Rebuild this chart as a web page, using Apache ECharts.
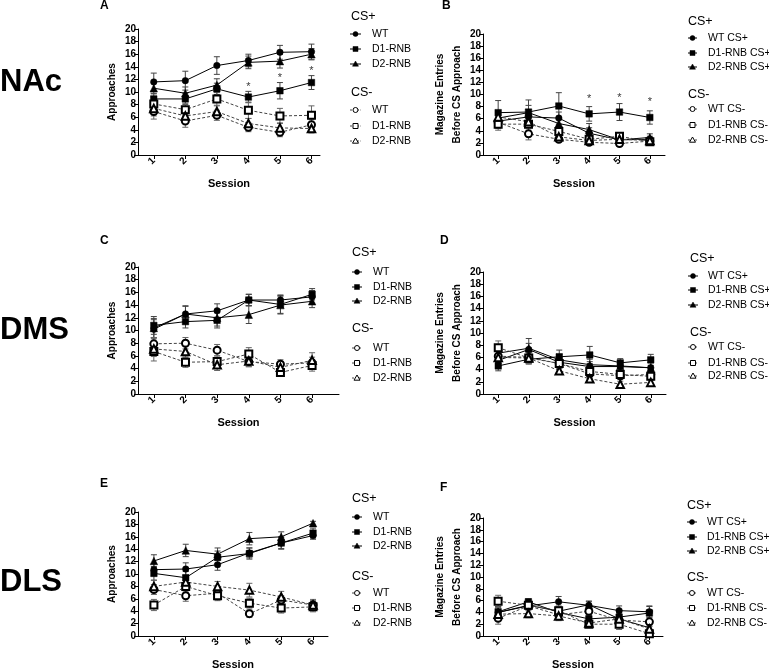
<!DOCTYPE html>
<html><head><meta charset="utf-8">
<script src="https://cdn.jsdelivr.net/npm/echarts@6/dist/echarts.min.js"></script>
<style>html,body{margin:0;padding:0;background:#fff}#c{width:769px;height:671px}</style>
</head><body><div id="c"></div>
<script>
const sessions = [1, 2, 3, 4, 5, 6];
const groupLabels = ['WT', 'D1-RNB', 'D2-RNB'];
const yTicks = [0, 2, 4, 6, 8, 10, 12, 14, 16, 18, 20];

// Panel A — NAc, approaches
const A_WT_p = [11.6, 11.8, 14.2, 15.0, 16.3, 16.4];
const A_D1_p = [8.9, 8.9, 10.5, 9.2, 10.2, 11.5];
const A_D2_p = [10.6, 9.8, 11.1, 14.7, 14.9, 16.0];
const A_WT_m = [6.9, 5.4, 6.3, 4.4, 3.6, 4.8];
const A_D1_m = [8.1, 7.2, 8.9, 7.1, 6.2, 6.3];
const A_D2_m = [7.4, 6.2, 6.9, 5.0, 4.3, 4.2];
const A_err = [[1.4,1.5,1.4,1.0,1.1,1.2],[0.9,0.9,0.9,0.9,1.3,1.1],[0.9,1.0,1.0,1.0,1.1,0.9],
               [1.2,1.0,0.8,0.7,0.7,0.8],[1.1,1.0,1.0,1.3,1.2,1.5],[1.2,0.9,0.9,0.8,0.8,0.7]];
const A_stars = [[4, 10.8], [5, 12.3], [6, 13.4]];

// Panel B — NAc, magazine entries
const B_WT_p = [5.6, 6.3, 6.1, 3.6, 2.5, 2.6];
const B_D1_p = [7.0, 7.1, 8.1, 6.8, 7.1, 6.2];
const B_D2_p = [6.1, 7.0, 5.2, 4.2, 2.5, 2.9];
const B_WT_m = [5.4, 3.5, 2.6, 2.1, 1.9, 2.3];
const B_D1_m = [5.1, 5.1, 3.9, 2.6, 3.1, 2.2];
const B_D2_m = [6.3, 5.5, 3.0, 2.4, 2.6, 2.4];
const B_err = [[1.0,1.2,1.0,0.9,0.5,0.5],[2.0,2.0,2.2,1.2,1.4,1.1],[1.0,1.2,1.0,1.0,0.6,0.6],
               [1.0,1.0,0.4,0.4,0.4,0.4],[1.0,1.0,0.8,0.6,0.6,0.5],[1.0,1.0,0.6,0.5,0.5,0.5]];
const B_stars = [[4, 9.3], [5, 9.5], [6, 8.7]];

// Panel C — DMS, approaches
const C_WT_p = [10.2, 12.6, 13.1, 14.8, 14.8, 15.3];
const C_D1_p = [10.8, 11.4, 11.6, 14.8, 14.1, 15.7];
const C_D2_p = [10.4, 12.6, 12.0, 12.5, 14.0, 14.6];
const C_WT_m = [7.9, 8.0, 6.9, 5.1, 4.7, 4.9];
const C_D1_m = [6.7, 5.0, 5.1, 6.3, 3.4, 4.5];
const C_D2_m = [7.1, 6.7, 4.6, 5.2, 4.2, 5.3];
const C_err = [[1.5,1.2,1.1,0.9,0.8,1.0],[1.4,1.0,1.2,0.9,1.4,0.9],[1.5,1.3,1.3,1.4,1.4,1.0],
               [1.0,0.9,0.9,0.8,0.7,0.9],[1.5,0.8,0.9,1.0,0.6,0.9],[1.2,0.9,0.9,0.9,0.8,1.2]];

// Panel D — DMS, magazine entries
const D_WT_p = [5.5, 7.3, 5.2, 4.5, 4.5, 4.3];
const D_D1_p = [4.6, 5.7, 6.1, 6.4, 5.1, 5.6];
const D_D2_p = [6.7, 7.5, 5.6, 4.8, 4.6, 4.3];
const D_WT_m = [6.2, 6.0, 5.0, 3.3, 3.0, 3.2];
const D_D1_m = [7.6, 5.9, 5.0, 3.7, 3.2, 2.9];
const D_D2_m = [6.0, 5.9, 3.8, 2.5, 1.6, 1.9];
const D_err = [[1.0,1.0,0.8,0.8,0.8,0.8],[0.8,0.8,1.1,1.4,0.7,0.9],[1.0,1.6,0.9,0.9,0.8,0.9],
               [1.0,0.9,0.8,0.7,0.6,0.6],[1.1,0.9,0.8,0.7,0.6,0.6],[1.0,0.9,0.5,0.5,0.5,0.4]];

// Panel E — DLS, approaches
const E_WT_p = [10.7, 10.8, 11.5, 13.4, 15.0, 16.2];
const E_D1_p = [10.1, 9.4, 12.7, 13.3, 15.0, 16.6];
const E_D2_p = [12.1, 13.8, 13.2, 15.7, 16.0, 18.2];
const E_WT_m = [7.5, 6.5, 6.9, 3.6, 5.8, 5.0];
const E_D1_m = [5.0, 8.0, 6.5, 5.3, 4.5, 4.7];
const E_D2_m = [8.0, 8.7, 8.0, 7.4, 6.3, 5.0];
const E_err = [[1.0,1.0,0.9,0.8,1.0,0.6],[1.1,1.0,1.0,0.9,0.9,0.8],[1.0,1.0,1.0,1.0,0.8,0.3],
               [0.8,0.9,0.8,0.6,0.7,0.7],[0.9,0.9,0.8,0.8,0.8,0.8],[1.0,1.0,0.8,1.1,0.9,0.9]];

// Panel F — DLS, magazine entries
const F_WT_p = [4.0, 5.1, 5.8, 5.2, 4.3, 4.1];
const F_D1_p = [4.1, 5.8, 4.0, 2.9, 3.2, 3.9];
const F_D2_p = [4.0, 5.2, 4.2, 5.3, 2.9, 1.4];
const F_WT_m = [3.0, 5.1, 3.6, 4.2, 2.7, 2.4];
const F_D1_m = [5.9, 5.2, 4.3, 2.0, 2.0, 0.4];
const F_D2_m = [3.7, 3.8, 3.4, 2.2, 2.9, 1.2];
const F_err = [[1.0,0.6,0.9,0.7,0.8,1.0],[0.9,0.5,0.9,0.6,0.7,1.1],[0.8,0.6,0.8,0.6,0.8,0.8],
               [1.0,0.8,0.8,0.8,0.7,0.8],[1.0,0.6,0.8,0.5,0.9,0.4],[0.8,0.7,0.8,0.5,0.7,0.5]];

const FONT = '"Liberation Sans", Arial, sans-serif';
const panels = [
  {id:'A', vals:[A_WT_p,A_D1_p,A_D2_p,A_WT_m,A_D1_m,A_D2_m], err:A_err, stars:A_stars,
   grid:{left:138, top:29, width:182, height:126}, xMax:6.27, yName:'Approaches', yGap:14,
   letter:[100,7], leg:{hx:351, hy:17, lx:[350,361], tx:372, ys:[34,49,64], mhy:93, mys:[110,126,141], suffix:false}},
  {id:'B', vals:[B_WT_p,B_D1_p,B_D2_p,B_WT_m,B_D1_m,B_D2_m], err:B_err, stars:B_stars,
   grid:{left:483, top:34, width:182, height:121}, xMax:6.5, yName:'Magazine Entries\nBefore CS Approach', yGap:12,
   letter:[442,7], leg:{hx:688, hy:22, lx:[688,697], tx:708, ys:[38,53,67], mhy:95, mys:[109,125,140], suffix:true}},
  {id:'C', vals:[C_WT_p,C_D1_p,C_D2_p,C_WT_m,C_D1_m,C_D2_m], err:C_err, stars:[],
   grid:{left:138, top:267, width:201, height:127}, xMax:6.85, yName:'Approaches', yGap:14,
   letter:[100,242], leg:{hx:352, hy:253, lx:[352,362], tx:373, ys:[272,287,301], mhy:329, mys:[348,363,378], suffix:false}},
  {id:'D', vals:[D_WT_p,D_D1_p,D_D2_p,D_WT_m,D_D1_m,D_D2_m], err:D_err, stars:[],
   grid:{left:483, top:272, width:183, height:122}, xMax:6.5, yName:'Magazine Entries\nBefore CS Approach', yGap:12,
   letter:[440,242], leg:{hx:690, hy:259, lx:[688,698], tx:708, ys:[276,290,305], mhy:333, mys:[347,363,376], suffix:true}},
  {id:'E', vals:[E_WT_p,E_D1_p,E_D2_p,E_WT_m,E_D1_m,E_D2_m], err:E_err, stars:[],
   grid:{left:138, top:512, width:190, height:127}, xMax:6.47, yName:'Approaches', yGap:14,
   letter:[100,485], leg:{hx:352, hy:499, lx:[352,362], tx:373, ys:[517,532,546], mhy:577, mys:[593,608,623], suffix:false}},
  {id:'F', vals:[F_WT_p,F_D1_p,F_D2_p,F_WT_m,F_D1_m,F_D2_m], err:F_err, stars:[],
   grid:{left:483, top:518, width:180, height:121}, xMax:6.45, yName:'Magazine Entries\nBefore CS Approach', yGap:12,
   letter:[440,489], leg:{hx:687, hy:506, lx:[687,697], tx:707, ys:[522,537,551], mhy:578, mys:[593,608,623], suffix:true}}
];
const regionLabels = [['NAc', 82], ['DMS', 330], ['DLS', 582]];

const symbols = ['circle','rect','triangle','emptyCircle','emptyRect','emptyTriangle'];
const symSizes = [6.5, 6.5, 7.5, 7, 7, 7.5];

const grids = [], xAxes = [], yAxes = [], series = [], graphics = [];
panels.forEach((p, i) => {
  grids.push(Object.assign({containLabel:false}, p.grid));
  xAxes.push({
    type:'value', gridIndex:i, min:0.5, max:p.xMax,
    name:'Session', nameLocation:'middle', nameGap:23,
    nameTextStyle:{fontFamily:FONT, fontWeight:'bold', fontSize:11, color:'#000'},
    axisLine:{show:true, onZero:false, lineStyle:{color:'#000', width:1}},
    axisTick:{show:true, length:4, customValues:sessions, lineStyle:{color:'#000'}},
    axisLabel:{show:true, customValues:sessions, rotate:45, margin:4, fontFamily:FONT, fontWeight:'bold', fontSize:10, color:'#000'},
    splitLine:{show:false}
  });
  yAxes.push({
    type:'value', gridIndex:i, min:0, max:20, interval:2,
    name:p.yName, nameLocation:'middle', nameGap:p.yGap,
    nameTextStyle:{fontFamily:FONT, fontWeight:'bold', fontSize:10, color:'#000', lineHeight:17},
    axisLine:{show:true, onZero:false, lineStyle:{color:'#000', width:1}},
    axisTick:{show:true, length:4, lineStyle:{color:'#000'}},
    axisLabel:{show:true, margin:2, fontFamily:FONT, fontWeight:'bold', fontSize:10, color:'#000',
      formatter:v => yTicks.includes(v) ? String(v) : ''},
    splitLine:{show:false}
  });
  p.vals.forEach((vals, k) => {
    const minus = k >= 3;
    series.push({
      type:'custom', xAxisIndex:i, yAxisIndex:i, z:1, silent:true,
      data: sessions.map((s, j) => [s, vals[j], p.err[k][j]]),
      encode:{x:0, y:1},
      renderItem:(params, api) => {
        const x = api.value(0), y = api.value(1), e = api.value(2);
        const t = api.coord([x, y + e]), b = api.coord([x, Math.max(0, y - e)]);
        const st = {stroke: minus ? '#666' : '#444', lineWidth:1};
        return {type:'group', children:[
          {type:'line', shape:{x1:t[0], y1:t[1], x2:b[0], y2:b[1]}, style:st},
          {type:'line', shape:{x1:t[0]-3, y1:t[1], x2:t[0]+3, y2:t[1]}, style:st},
          {type:'line', shape:{x1:b[0]-3, y1:b[1], x2:b[0]+3, y2:b[1]}, style:st}
        ]};
      }
    });
    series.push({
      type:'line', xAxisIndex:i, yAxisIndex:i, z:2, silent:true,
      name: p.id + (minus ? ' CS- ' : ' CS+ ') + groupLabels[k % 3],
      data: sessions.map((s, j) => [s, vals[j]]),
      symbol: symbols[k], symbolSize: symSizes[k], showAllSymbol:true,
      lineStyle:{color: minus ? '#444' : '#000', width:1, type: minus ? [3, 2] : 'solid'},
      itemStyle:{color:'#000', borderColor:'#000', borderWidth: minus ? 1.2 : 0.5}
    });
  });
  if (p.stars.length) {
    series.push({
      type:'scatter', xAxisIndex:i, yAxisIndex:i, z:3, silent:true,
      data:p.stars, symbolSize:1, itemStyle:{color:'rgba(0,0,0,0)'},
      label:{show:true, formatter:'*', position:'inside', fontFamily:FONT, fontSize:11, color:'#000'}
    });
  }
  graphics.push({type:'text', left:p.letter[0], top:p.letter[1] - 7,
    style:{text:p.id, font:'bold 12px ' + FONT, fill:'#000'}});
  const L = p.leg;
  const header = (txt, y) => ({type:'text', x:L.hx, y:y, style:{text:txt, font:'12.5px ' + FONT, fill:'#000', verticalAlign:'middle'}});
  graphics.push(header('CS+', L.hy));
  graphics.push(header('CS-', L.mhy));
  const allYs = L.ys.concat(L.mys);
  allYs.forEach((y, k) => {
    const minus = k >= 3;
    const cx = (L.lx[0] + L.lx[1]) / 2;
    graphics.push({type:'line', shape:{x1:L.lx[0], y1:y, x2:L.lx[1], y2:y},
      style:{stroke: minus ? '#444' : '#000', lineWidth:1, lineDash: minus ? [2, 1.5] : null}});
    const fill = minus ? '#fff' : '#000';
    const sty = {fill:fill, stroke:'#000', lineWidth: minus ? 1 : 0.5};
    const kind = k % 3;
    if (kind === 0) graphics.push({type:'circle', shape:{cx:cx, cy:y, r:2.5}, style:sty});
    else if (kind === 1) graphics.push({type:'rect', shape:{x:cx-2.5, y:y-2.5, width:5, height:5}, style:sty});
    else graphics.push({type:'polygon', shape:{points:[[cx, y-3], [cx+3, y+2.2], [cx-3, y+2.2]]}, style:sty});
    const label = groupLabels[kind] + (L.suffix ? (minus ? ' CS-' : ' CS+') : '');
    graphics.push({type:'text', x:L.tx, y:y, style:{text:label, font:'10.5px ' + FONT, fill:'#000', verticalAlign:'middle'}});
  });
});
regionLabels.forEach(([t, y]) => {
  graphics.push({type:'text', x:0, y:y, style:{text:t, font:'bold 31px ' + FONT, fill:'#000', verticalAlign:'middle'}});
});

const chart = echarts.init(document.getElementById('c'), null, {renderer:'canvas'});
chart.setOption({
  animation:false, backgroundColor:'#fff',
  grid:grids, xAxis:xAxes, yAxis:yAxes, series:series, graphic:graphics
});
</script></body></html>
